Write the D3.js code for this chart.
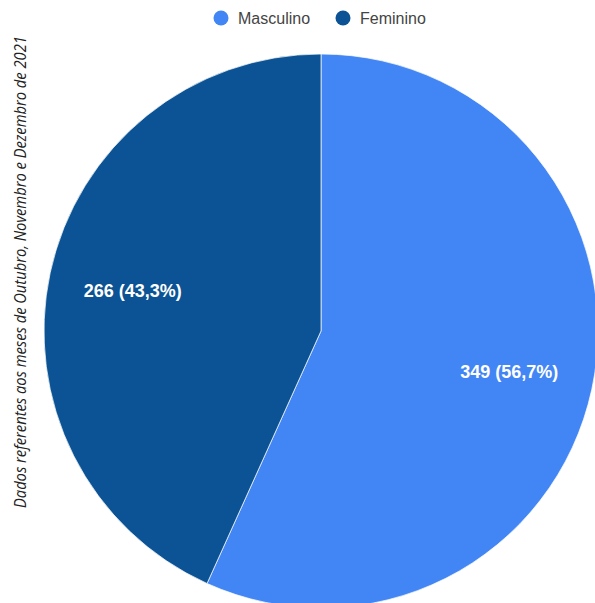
<!DOCTYPE html>
<html>
<head>
<meta charset="utf-8">
<script src="https://cdn.jsdelivr.net/npm/d3@7"></script>
<style>
html,body{margin:0;padding:0;background:#fff;overflow:hidden;}
svg{display:block;}
</style>
</head>
<body>
<svg id="chart" width="595" height="603"></svg>
<script>
const categories = ["Masculino", "Feminino"];
const values = [349, 266];
const colors = ["#4285f4", "#0b5394"];
const note = "Dados referentes aos meses de Outubro, Novembro e Dezembro de 2021";

const W = 595, H = 603;
const cx = 321, cy = 331, R = 277;
const svg = d3.select("#chart");

const total = d3.sum(values);
const data = categories.map((c, i) => ({name: c, value: values[i], color: colors[i]}));

const pie = d3.pie().value(d => d.value).sort(null);
const arcs = pie(data);
const arc = d3.arc().innerRadius(0).outerRadius(R);
const labelArc = d3.arc().innerRadius(R * 0.695).outerRadius(R * 0.695);

const g = svg.append("g").attr("transform", `translate(${cx},${cy})`);
g.selectAll("path.slice").data(arcs).join("path")
  .attr("class", "slice")
  .attr("d", arc)
  .attr("fill", d => d.data.color)
  .attr("stroke", "#ffffff")
  .attr("stroke-width", 0.7);

const fmt = v => (v * 100).toFixed(1).replace(".", ",");
g.selectAll("text.lbl").data(arcs).join("text")
  .attr("class", "lbl")
  .attr("transform", d => `translate(${labelArc.centroid(d)})`)
  .attr("text-anchor", "middle")
  .attr("dy", "0.36em")
  .attr("fill", "#ffffff")
  .attr("font-family", "Liberation Sans, Arial, sans-serif")
  .attr("font-weight", "bold")
  .attr("font-size", 18)
  .text(d => `${d.data.value} (${fmt(d.data.value / total)}%)`);

// legend
const legendX = [221, 343];
const leg = svg.append("g");
const items = leg.selectAll("g").data(data).join("g")
  .attr("transform", (d, i) => `translate(${legendX[i]},18)`);
items.append("circle").attr("r", 7.5).attr("fill", d => d.color);
items.append("text")
  .attr("x", 17).attr("dy", "0.35em")
  .attr("font-family", "Liberation Sans, Arial, sans-serif")
  .attr("font-size", 16)
  .attr("fill", "#444444")
  .text(d => d.name);

// vertical note
const noteText = svg.append("text")
  .attr("font-family", "Open Sans, sans-serif")
  .attr("font-style", "italic")
  .attr("font-size", 16)
  .attr("fill", "#222222")
  .text(note);
const natural = noteText.node().getComputedTextLength();
const sx = 472 / natural;
noteText.attr("transform", `translate(26,508) rotate(-90) scale(${sx},1)`);
</script>
</body>
</html>
